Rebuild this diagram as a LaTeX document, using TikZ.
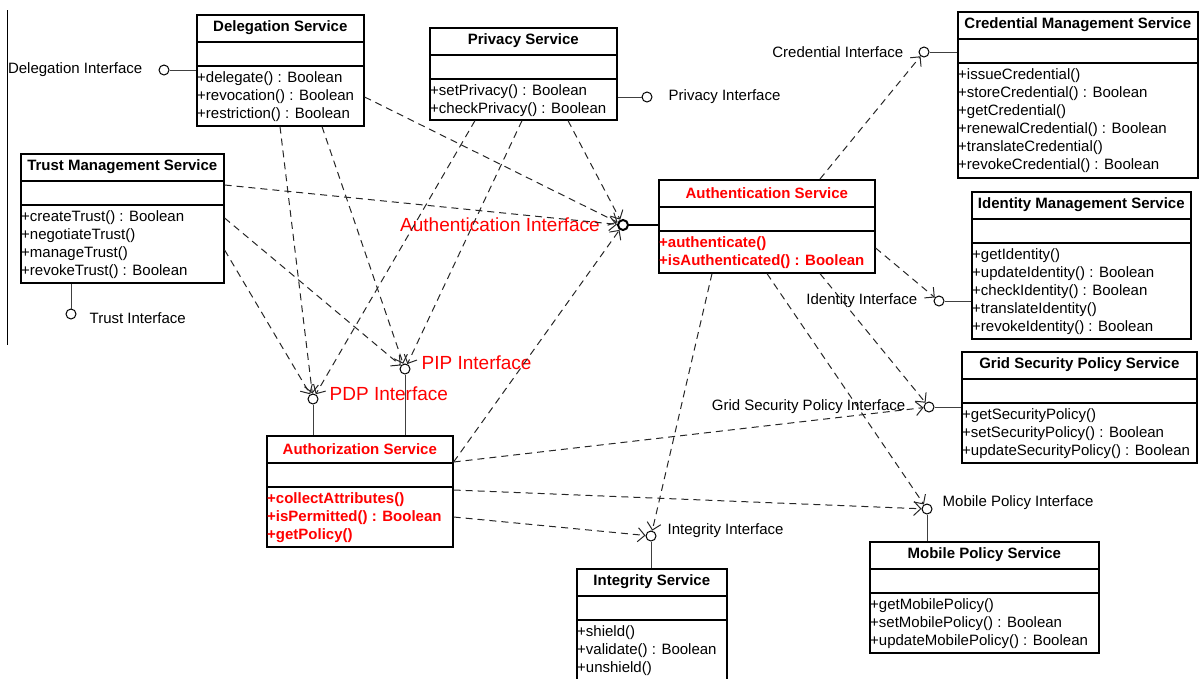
\documentclass[tikz,border=0pt]{standalone}
\usepackage{fontspec}
\setmainfont{Liberation Sans}
\usetikzlibrary{positioning,arrows.meta}

\tikzset{
  classbox/.style={draw, line width=1.6pt, rectangle, inner sep=0pt, anchor=north west},
  classline/.style={line width=1.6pt},
  classtitle/.style={font=\fontsize{15}{18}\selectfont\bfseries, inner sep=0pt},
  classops/.style={font=\fontsize{15}{18}\selectfont, align=left, anchor=north west, inner xsep=1pt, inner ysep=5pt},
  hot/.style={text=red, font=\fontsize{15}{18}\selectfont\bfseries},
  plain/.style={},
  iface/.style={draw, circle, line width=1pt, minimum size=10pt, inner sep=0pt, fill=white},
  ilabel/.style={font=\fontsize{15}{18}\selectfont, inner sep=1pt},
  rlabel/.style={font=\fontsize{19}{22}\selectfont, text=red, inner sep=1pt},
  stub/.style={line width=1pt, draw=black!75},
  dep/.style={->, dash pattern=on 7pt off 5pt, line width=1pt, draw=black!85},
}

% class box: [style] name, north west corner, width, height, title, operations
\newcommand\umlclass[7][plain]{%
  \node[classbox, minimum width=#4, minimum height=#5] (#2) at #3 {};
  \node[classtitle, #1] (#2-t) at ([yshift=-14]#2.north) {#6};
  \draw[classline] ([yshift=-28]#2.north west) -- ([yshift=-28]#2.north east);
  \draw[classline] ([yshift=-52]#2.north west) -- ([yshift=-52]#2.north east);
  \node[classops, #1] (#2-o) at ([yshift=-52]#2.north west) {#7};
}

\begin{document}
\begin{tikzpicture}[x=1pt, y=-1pt, >={Straight Barb[length=7pt,width=14pt]}]
  \useasboundingbox (0,0) rectangle (1199,678);
  \clip (0,0) rectangle (1199,678);

  % 1. Service classes
  \umlclass{deleg}{(196,14)}{167pt}{111pt}{Delegation Service}
    {+delegate() : Boolean\\+revocation() : Boolean\\+restriction() : Boolean}
  \umlclass{trust}{(20,153)}{203pt}{129pt}{Trust Management Service}
    {+createTrust() : Boolean\\+negotiateTrust()\\+manageTrust()\\+revokeTrust() : Boolean}
  \umlclass{priv}{(429,27)}{187pt}{92pt}{Privacy Service}
    {+setPrivacy() : Boolean\\+checkPrivacy() : Boolean}
  \umlclass[hot]{authn}{(658,179)}{216pt}{93pt}{Authentication Service}
    {+authenticate()\\+isAuthenticated() : Boolean}
  \umlclass{cred}{(957,11)}{240pt}{166pt}{Credential Management Service}
    {+issueCredential()\\+storeCredential() : Boolean\\+getCredential()\\+renewalCredential() : Boolean\\+translateCredential()\\+revokeCredential() : Boolean}
  \umlclass{ident}{(971,191)}{219pt}{147pt}{Identity Management Service}
    {+getIdentity()\\+updateIdentity() : Boolean\\+checkIdentity() : Boolean\\+translateIdentity()\\+revokeIdentity() : Boolean}
  \umlclass{grid}{(961,351)}{235pt}{111pt}{Grid Security Policy Service}
    {+getSecurityPolicy()\\+setSecurityPolicy() : Boolean\\+updateSecurityPolicy() : Boolean}
  \umlclass{mobile}{(869,541)}{229pt}{111pt}{Mobile Policy Service}
    {+getMobilePolicy()\\+setMobilePolicy() : Boolean\\+updateMobilePolicy() : Boolean}
  \umlclass{integ}{(576,568)}{150pt}{125pt}{Integrity Service}
    {+shield()\\+validate() : Boolean\\+unshield()}
  \umlclass[hot]{authz}{(266,435)}{186pt}{111pt}{Authorization Service}
    {+collectAttributes()\\+isPermitted() : Boolean\\+getPolicy()}

  % 2. Provided interfaces (lollipops)
  \node[iface] (delegI) at (164,70) {};
  \node[iface] (trustI) at (71,314) {};
  \node[iface] (privI) at (647,97) {};
  \node[iface, line width=2pt] (authI) at (623,225) {};
  \node[iface] (credI) at (924,52) {};
  \node[iface] (identI) at (939,301) {};
  \node[iface] (gridI) at (929,407) {};
  \node[iface] (mobI) at (927,509) {};
  \node[iface] (integI) at (651,536) {};
  \node[iface] (pdpI) at (313,399) {};
  \node[iface] (pipI) at (405,369) {};

  \draw[stub] (delegI) -- (delegI -| deleg.west);
  \draw[stub] (trustI) -- (trustI |- trust.south);
  \draw[stub] (privI) -- (privI -| priv.east);
  \draw[line width=2.5pt] (authI) -- (authI -| authn.west);
  \draw[stub] (credI) -- (credI -| cred.west);
  \draw[stub] (identI) -- (identI -| ident.west);
  \draw[stub] (gridI) -- (gridI -| grid.west);
  \draw[stub] (mobI) -- (mobI |- mobile.north);
  \draw[stub] (integI) -- (integI |- integ.north);
  \draw[stub] (pdpI) -- (pdpI |- authz.north);
  \draw[stub] (pipI) -- (pipI |- authz.north);

  % 3. Interface names
  \node[ilabel, left=15pt of delegI] (delegL) {Delegation Interface};
  \node[ilabel, right=12pt of trustI, yshift=-4pt] (trustL) {Trust Interface};
  \node[ilabel, right=15pt of privI] (privL) {Privacy Interface};
  \node[rlabel, left=16pt of authI] (authL) {Authentication Interface};
  \node[ilabel, left=14pt of credI] (credL) {Credential Interface};
  \node[ilabel, left=15pt of identI] (identL) {Identity Interface};
  \node[ilabel, left=17pt of gridI] (gridL) {Grid Security Policy Interface};
  \node[ilabel, right=9pt of mobI, yshift=6pt] (mobL) {Mobile Policy Interface};
  \node[ilabel, right=10pt of integI, yshift=5pt] (integL) {Integrity Interface};
  \node[rlabel, right=10pt of pdpI, yshift=5pt] (pdpL) {PDP Interface};
  \node[rlabel, right=10pt of pipI, yshift=6pt] (pipL) {PIP Interface};

  % 4. Dependencies on the interfaces
  \draw[dep] ([yshift=-83]deleg.north east) -- (authI);
  \draw[dep] ([xshift=84]deleg.south west) -- (pdpI);
  \draw[dep] ([xshift=126]deleg.south west) -- (pipI);
  \draw[dep] ([yshift=-32]trust.north east) -- (authI);
  \draw[dep] ([yshift=-65]trust.north east) -- (pipI);
  \draw[dep] ([yshift=-97]trust.north east) -- (pdpI);
  \draw[dep] ([xshift=46]priv.south west) -- (pdpI);
  \draw[dep] ([xshift=93]priv.south west) -- (pipI);
  \draw[dep] ([xshift=139]priv.south west) -- (authI);
  \draw[dep] ([yshift=-27]authz.north east) -- (authI);
  \draw[dep] ([yshift=-27]authz.north east) -- (gridI);
  \draw[dep] ([yshift=-55]authz.north east) -- (mobI);
  \draw[dep] ([yshift=-82]authz.north east) -- (integI);
  \draw[dep] ([xshift=54]authn.south west) -- (integI);
  \draw[dep] ([xshift=109]authn.south west) -- (mobI);
  \draw[dep] ([xshift=162]authn.south west) -- (gridI);
  \draw[dep] ([yshift=-69]authn.north east) -- (identI);
  \draw[dep] ([xshift=162]authn.north west) -- (credI);

  % 5. Left margin rule
  \draw[line width=1pt] (7,10) -- (7,345);
\end{tikzpicture}
\end{document}
